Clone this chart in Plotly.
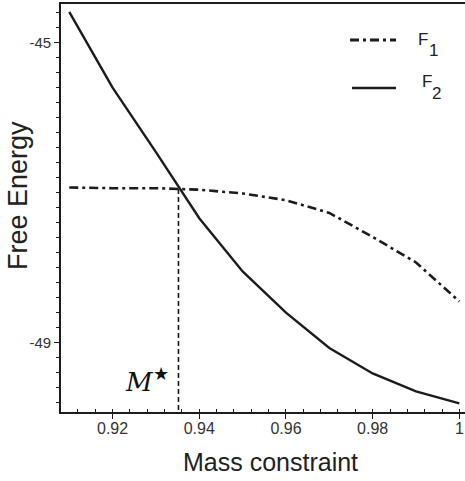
import numpy as np
import plotly.graph_objects as go

# ---- data ----
mass = [0.91, 0.92, 0.93, 0.94, 0.95, 0.96, 0.97, 0.98, 0.99, 1.00]
F1 = [-46.93, -46.94, -46.94, -46.96, -47.01, -47.10, -47.27, -47.59, -47.93, -48.45]
F2 = [-44.59, -45.60, -46.46, -47.34, -48.05, -48.60, -49.07, -49.41, -49.65, -49.81]
M_star = 0.9352
F_star = -46.95
ytick_vals = [-49, -48, -47, -46, -45]
ytick_text = ["-49", "", "", "", "-45"]
xtick_vals = [0.92, 0.94, 0.96, 0.98, 1.0]
xtick_text = ["0.92", "0.94", "0.96", "0.98", "1"]

W, H = 465, 481
L, R, T, B = 61, 0, 4, 69
PW, PH = W - L - R, H - T - B

def px(x):
    return (x - L) / PW

def py(y):
    return (H - B - y) / PH

X_RANGE = [0.9081, 1.0013]
Y_RANGE = [-49.924, -44.484]

INK = "#1c1c1c"
DASHDOT = "9px,4px,3px,4px"
SANS = "Liberation Sans, Arial, sans-serif"

fig = go.Figure()
fig.add_trace(go.Scatter(x=mass, y=F1, mode="lines", name="F1",
                         line=dict(color=INK, width=2.6, dash=DASHDOT)))
fig.add_trace(go.Scatter(x=mass, y=F2, mode="lines", name="F2",
                         line=dict(color=INK, width=2.4)))
fig.add_trace(go.Scatter(x=[M_star, M_star], y=[F_star, Y_RANGE[0]], mode="lines",
                         line=dict(color=INK, width=1.6, dash="5px,3px")))

minor_x = list(np.round(np.arange(0.908, 1.0005, 0.004), 4))
minor_y = list(np.round(np.arange(-49.8, -44.5, 0.2), 2))

fig.update_xaxes(range=X_RANGE, tickmode="array", tickvals=xtick_vals, ticktext=xtick_text,
                 showline=True, linecolor=INK, linewidth=1.6, mirror=True,
                 ticks="outside", ticklen=5, tickwidth=1.3, tickcolor=INK,
                 ticklabelstandoff=-4,
                 minor=dict(tickmode="array", tickvals=minor_x, ticks="inside", ticklen=3,
                            tickwidth=1.1, tickcolor=INK),
                 showgrid=False, zeroline=False,
                 tickfont=dict(family=SANS, size=16, color="#333"))
fig.update_yaxes(range=Y_RANGE, tickmode="array", tickvals=ytick_vals, ticktext=ytick_text,
                 showline=True, linecolor=INK, linewidth=1.6,
                 ticks="outside", ticklen=5, tickwidth=1.3, tickcolor=INK,
                 minor=dict(tickmode="array", tickvals=minor_y, ticks="outside", ticklen=3,
                            tickwidth=1.1, tickcolor=INK),
                 showgrid=False, zeroline=False,
                 tickfont=dict(family=SANS, size=15, color="#333"))

shapes = [
    dict(type="line", xref="paper", yref="paper", x0=px(350), x1=px(396), y0=py(40), y1=py(40),
         line=dict(color=INK, width=3, dash=DASHDOT)),
    dict(type="line", xref="paper", yref="paper", x0=px(352), x1=px(396), y0=py(88), y1=py(88),
         line=dict(color=INK, width=2.6)),
]

def label(text, x, y, size=17, anchor="left", family=SANS, color="#222", angle=0):
    return dict(text=text, xref="paper", yref="paper", x=px(x), y=py(y),
                xanchor=anchor, yanchor="middle", showarrow=False, textangle=angle,
                font=dict(family=family, size=size, color=color))

annotations = [
    label("F", 416, 39),
    label("1", 427, 50),
    label("F", 420, 81),
    label("2", 429.5, 93),
    dict(text="<i>M</i><sup>★</sup>", xref="paper", yref="paper", x=px(147), y=py(380),
         xanchor="center", yanchor="middle", showarrow=False,
         font=dict(family="DejaVu Serif, Liberation Serif, serif", size=26, color="#111")),
    label("Free Energy", 18, 196, size=27, anchor="center", angle=-90),
    label("Mass constraint", 270, 462, size=25, anchor="center"),
]

fig.update_layout(width=W, height=H, margin=dict(l=L, r=R, t=T, b=B),
                  paper_bgcolor="white", plot_bgcolor="white", showlegend=False,
                  shapes=shapes, annotations=annotations)

fig.write_html("out.html", config={"displayModeBar": False},
               post_script="document.body.style.margin='0';document.body.style.overflow='hidden';")
